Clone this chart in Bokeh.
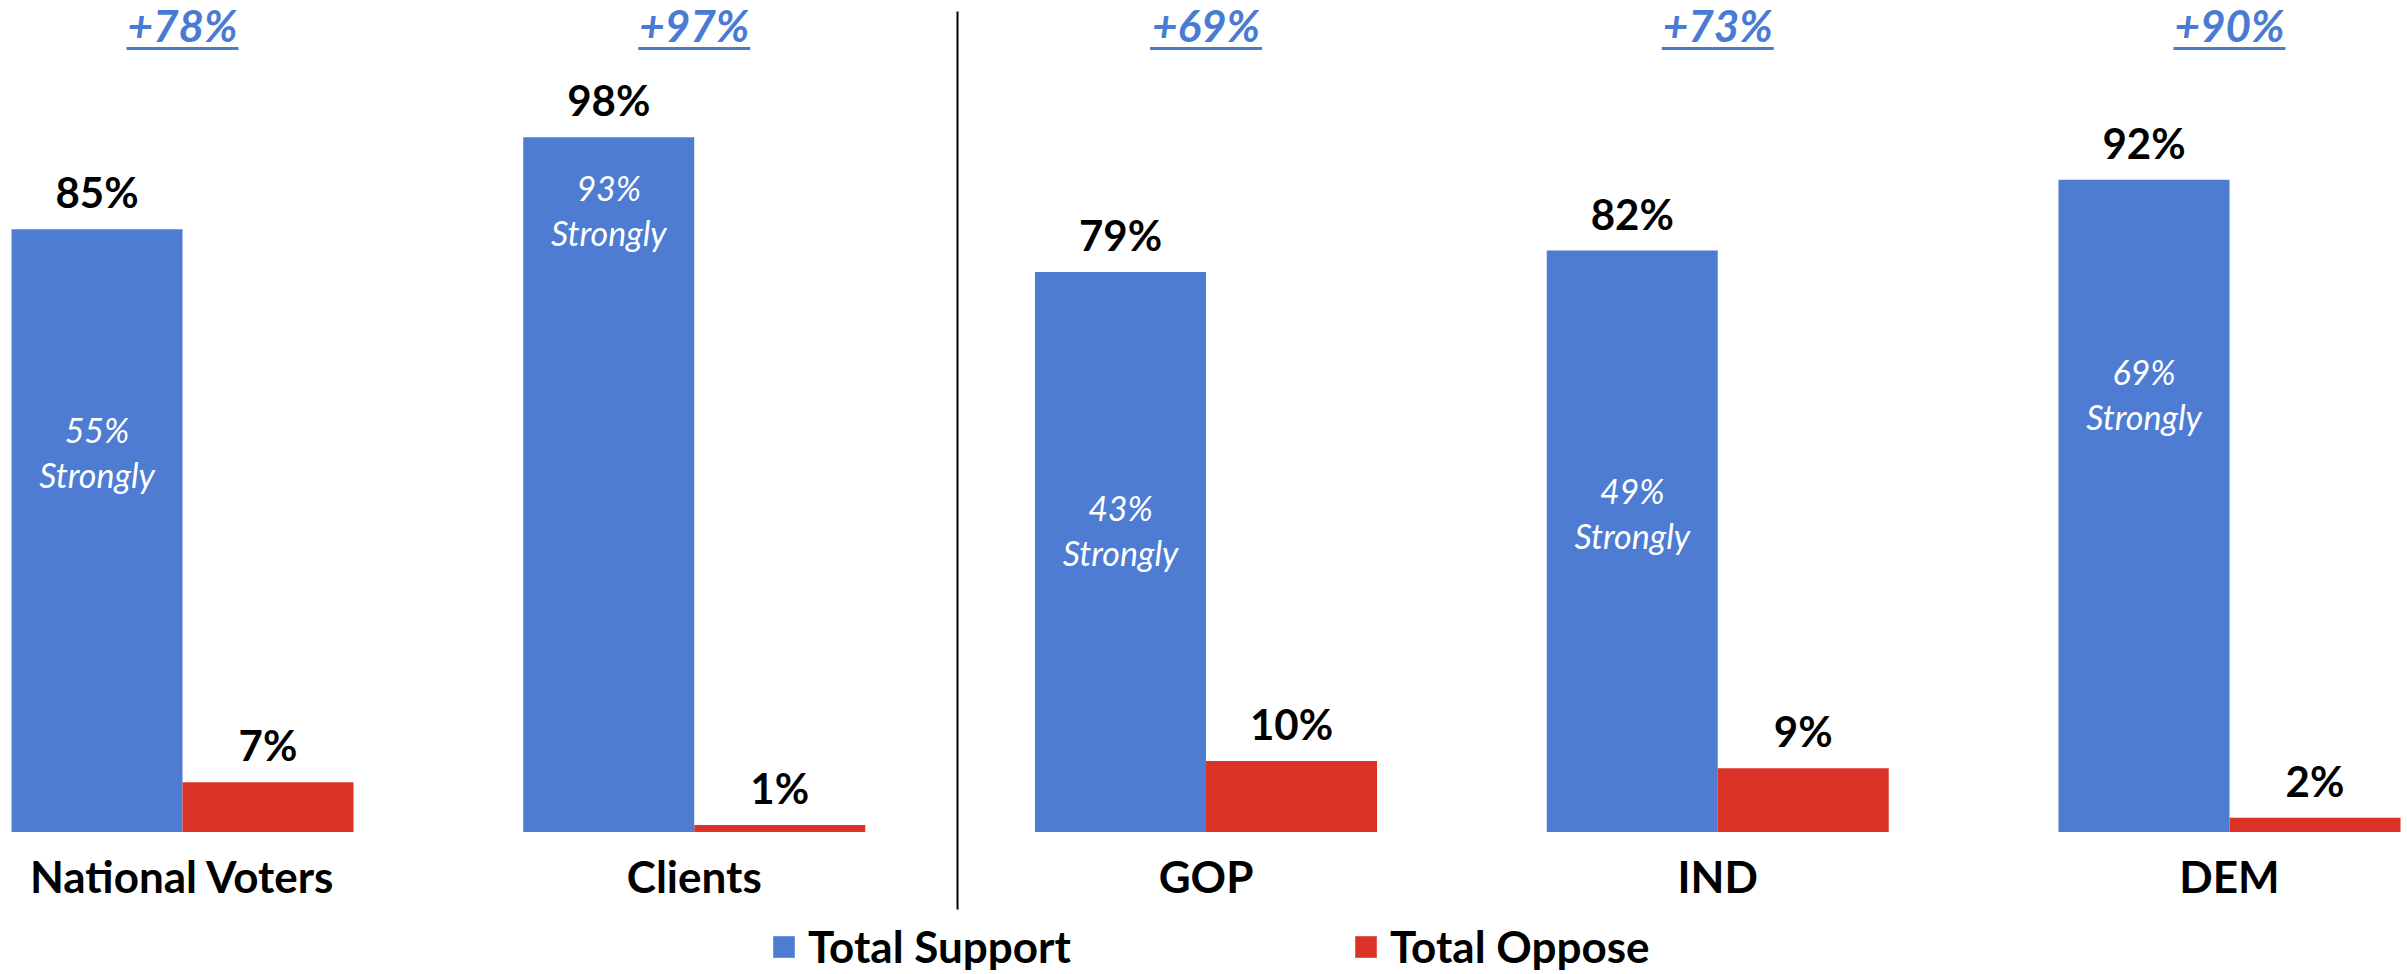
from bokeh.plotting import figure
from bokeh.models import Range1d, ColumnDataSource, Legend, LegendItem
from bokeh.transform import dodge
from bokeh.core.properties import value
from bokeh.embed import file_html
from bokeh.resources import INLINE

# ---------------- data ----------------
categories = ["National Voters", "Clients", "GOP", "IND", "DEM"]
total_support = [85, 98, 79, 82, 92]
total_oppose = [7, 1, 10, 9, 2]
strongly_support = [55, 93, 43, 49, 69]
# vertical anchor (in % units) of the "xx% Strongly" note inside each blue bar
strongly_note_pos = [51.9, 86.0, 40.9, 43.3, 60.0]

# ---------------- style / layout ----------------
BLUE = "#4e7cd2"
RED = "#dc3328"
NET_BLUE = "#4a7bd3"
FONT = value("Lato")

W, H = 2407, 974
PPU = 7.09             # px per percentage point
BASE_PX = 831.5        # baseline distance from top of frame
UNIT = 511.75          # px per category
y_hi = BASE_PX / PPU
y_lo = -(H - BASE_PX) / PPU
x_lo = -182.0 / UNIT
x_hi = x_lo + W / UNIT
BAR_W = 171.0 / UNIT
OFF = BAR_W / 2

xs = list(range(len(categories)))
net = [s - o for s, o in zip(total_support, total_oppose)]

src = ColumnDataSource(dict(
    x=xs,
    cat=categories,
    support=total_support,
    oppose=total_oppose,
    support_lbl=[f"{v}%" for v in total_support],
    oppose_lbl=[f"{v}%" for v in total_oppose],
    strong_pct=[f"{v}%" for v in strongly_support],
    strong_word=["Strongly"] * len(categories),
    strong_pos=strongly_note_pos,
    net_lbl=[f"+{v}%" for v in net],
    zero=[0] * len(categories),
    top=[y_hi] * len(categories),
    uline=[y_hi - 48 / PPU] * len(categories),
))

p = figure(width=W, height=H, output_backend="svg", toolbar_location=None,
           x_range=Range1d(x_lo, x_hi), y_range=Range1d(y_lo, y_hi),
           min_border=0, min_border_left=0, min_border_right=0,
           min_border_top=0, min_border_bottom=0)
p.axis.visible = False
p.grid.visible = False
p.outline_line_color = None
p.background_fill_color = "white"

r_sup = p.vbar(x=dodge("x", -OFF, range=p.x_range), top="support", bottom=0,
               width=BAR_W, source=src, fill_color=BLUE, line_color=None)
r_opp = p.vbar(x=dodge("x", OFF, range=p.x_range), top="oppose", bottom=0,
               width=BAR_W, source=src, fill_color=RED, line_color=None)

# value labels
p.text(x=dodge("x", -OFF, range=p.x_range), y="support", text="support_lbl", source=src,
       text_align="center", text_baseline="alphabetic", y_offset=-37,
       text_font=FONT, text_font_style="bold", text_font_size="42px", text_color="black")
p.text(x=dodge("x", OFF, range=p.x_range), y="oppose", text="oppose_lbl", source=src,
       text_align="center", text_baseline="alphabetic", y_offset=-37,
       text_font=FONT, text_font_style="bold", text_font_size="42px", text_color="black")

# "xx% Strongly" notes
p.text(x=dodge("x", -OFF, range=p.x_range), y="strong_pos", text="strong_pct", source=src,
       text_align="center", text_baseline="alphabetic", y_offset=-35,
       text_font=FONT, text_font_style="italic", text_font_size="34px", text_color="white")
p.text(x=dodge("x", -OFF, range=p.x_range), y="strong_pos", text="strong_word", source=src,
       text_align="center", text_baseline="alphabetic", y_offset=10,
       text_font=FONT, text_font_style="italic", text_font_size="34px", text_color="white")

# category labels
p.text(x="x", y="zero", text="cat", source=src, text_align="center",
       text_baseline="alphabetic", y_offset=44,
       text_font=FONT, text_font_style="bold", text_font_size="44px", text_color="black")

# net labels on top, underlined
p.text(x="x", y="top", text="net_lbl", source=src, text_align="center",
       text_baseline="alphabetic", y_offset=24,
       text_font=FONT, text_font_style="bold italic", text_font_size="44px",
       text_color=NET_BLUE)
p.rect(x="x", y="uline", width=112, width_units="screen", height=3,
       height_units="screen", source=src, fill_color=NET_BLUE, line_color=None)

# divider between overall groups and party groups
DIV_X = 1.5 + 7.4 / UNIT
p.segment(x0=[DIV_X], y0=[(BASE_PX - 11) / PPU], x1=[DIV_X], y1=[-(909 - BASE_PX) / PPU],
          line_color="black", line_width=2)

legend = Legend(items=[LegendItem(label="Total Support", renderers=[r_sup]),
                       LegendItem(label="Total Oppose", renderers=[r_opp])],
                location=(770, 2), orientation="horizontal",
                glyph_width=27, glyph_height=27, label_standoff=11,
                label_width=300, spacing=244, padding=0, margin=0,
                border_line_alpha=0, background_fill_alpha=0,
                label_text_font="Lato", label_text_font_style="bold",
                label_text_font_size="44px", label_text_color="black")
p.add_layout(legend)

open("out.html", "w").write(file_html(p, INLINE))
